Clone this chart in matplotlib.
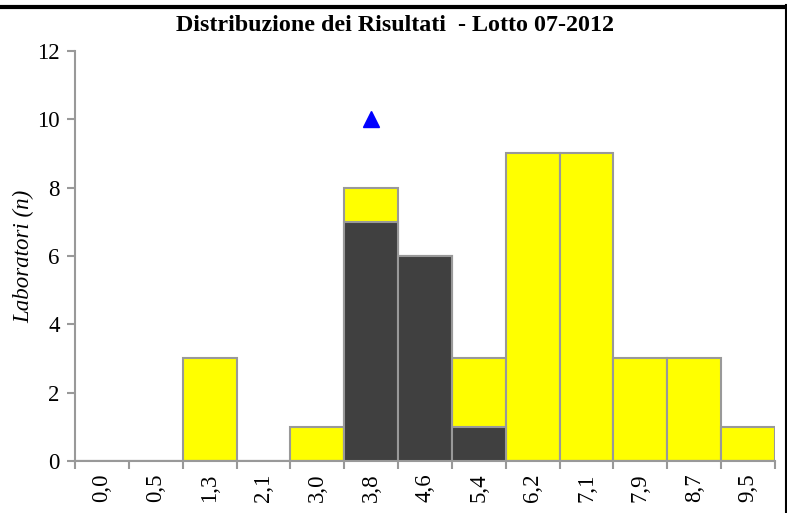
import numpy as np
import matplotlib.pyplot as plt
from matplotlib.lines import Line2D

categories = ["0,0", "0,5", "1,3", "2,1", "3,0", "3,8", "4,6", "5,4",
              "6,2", "7,1", "7,9", "8,7", "9,5"]
totali = [0, 0, 3, 0, 1, 8, 6, 3, 9, 9, 3, 3, 1]
scuri = [0, 0, 0, 0, 0, 7, 6, 1, 0, 0, 0, 0, 0]
marker_cat = 5
marker_val = 10

plt.rcParams['font.family'] = ['Liberation Serif', 'DejaVu Serif']

fig = plt.figure(figsize=(7.87, 5.13), dpi=100)
ax = fig.add_axes([0.0953, 0.1014, 0.8895, 0.7992])

x = np.arange(len(categories))
grey = '#999999'
ax.bar(x, totali, width=1.0, color='#ffff00', edgecolor=grey, linewidth=1.5, zorder=2)
ax.bar(x, scuri, width=1.0, color='#404040', edgecolor=grey, linewidth=1.5, zorder=3)
ax.plot([marker_cat], [marker_val], marker='^', color='#0000ff', markersize=11.5,
        linestyle='none', zorder=4)

ax.set_xlim(-0.5, len(categories) - 0.5)
ax.set_ylim(0, 12)
ax.set_yticks(range(0, 13, 2))
ax.set_xticks(x)
ax.set_xticklabels(categories, rotation=90, fontsize=16.5)
ax.set_xticks(np.arange(-0.5, len(categories)), minor=True)
ax.tick_params(axis='x', which='major', length=0, pad=9)
ax.tick_params(axis='x', which='minor', length=6, width=1.5, color=grey)
ax.tick_params(axis='y', length=6, width=1.5, color=grey, labelsize=16.5, pad=5)

for s in ['top', 'right']:
    ax.spines[s].set_visible(False)
for s in ['left', 'bottom']:
    ax.spines[s].set_color(grey)
    ax.spines[s].set_linewidth(1.5)

ax.set_ylabel('Laboratori (n)', fontstyle='italic', fontsize=16.5, labelpad=2)
fig.text(0.502, 0.951, 'Distribuzione dei Risultati  - Lotto 07-2012',
         ha='center', va='center', fontsize=17.3, fontweight='bold')

# cornice
fig.add_artist(Line2D([0, 1], [0.9865, 0.9865], color='black', linewidth=3,
                      transform=fig.transFigure))
fig.add_artist(Line2D([0.9985, 0.9985], [0, 0.99], color='black', linewidth=1.5,
                      transform=fig.transFigure))

fig.savefig('out.png', dpi=100)
